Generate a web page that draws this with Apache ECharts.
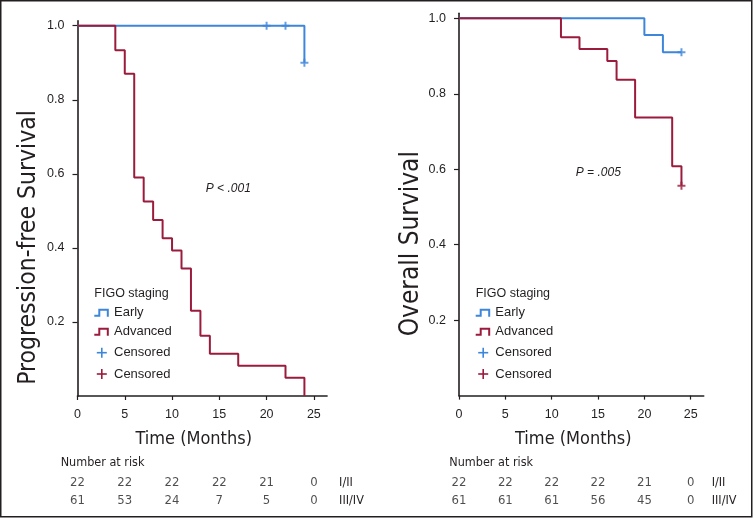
<!DOCTYPE html>
<html>
<head>
<meta charset="utf-8">
<style>
html,body{margin:0;padding:0;background:#fff;}
#chart{width:754px;height:518px;}
</style>
<script src="https://cdn.jsdelivr.net/npm/echarts@6.0.0/dist/echarts.min.js"></script>
</head>
<body>
<div id="chart"></div>
<script>
// ---- data (time in months, survival probability) ----
const pfsEarly = [[0, 1], [24, 0.90]];
const pfsAdvanced = [[0, 1], [4, 0.934], [5, 0.870], [6, 0.590], [7, 0.525], [8, 0.475], [9, 0.426],
  [10, 0.393], [11, 0.344], [12, 0.230], [13, 0.163], [14, 0.114], [17, 0.082], [22, 0.049], [24, 0]];
const pfsEarlyCensor = [[20, 1], [22, 1], [24, 0.90]];
const pfsAdvancedCensor = [];

const osEarly = [[0, 1], [20, 0.956], [22, 0.910], [24, 0.910]];
const osAdvanced = [[0, 1], [11, 0.950], [13, 0.919], [16, 0.887], [17, 0.837], [19, 0.737], [23, 0.608], [24, 0.556]];
const osEarlyCensor = [[24, 0.910]];
const osAdvancedCensor = [[24, 0.556]];

const xTicks = [0, 5, 10, 15, 20, 25];
const yTicks = [0.2, 0.4, 0.6, 0.8, 1.0];
const riskTimes = [0, 5, 10, 15, 20, 25];
const riskGroups = ['I/II', 'III/IV'];
const pfsRiskEarly = [22, 22, 22, 22, 21, 0];
const pfsRiskAdvanced = [61, 53, 24, 7, 5, 0];
const osRiskEarly = [22, 22, 22, 22, 21, 0];
const osRiskAdvanced = [61, 61, 61, 56, 45, 0];

// ---- styles ----
const BLUE = '#3d86da';
const RED = '#9a1b3c';
const INK = '#231f20';
const FONT = "'Liberation Sans', Arial, Helvetica, sans-serif";
const NARROW = "'DejaVu Sans Condensed', sans-serif";
const PLUS = 'path://M5,0L5,10M0,5L10,5';

const chart = echarts.init(document.getElementById('chart'), null, {renderer: 'canvas'});

function xAxisCfg(gi) {
  return {
    type: 'value', gridIndex: gi, min: 0, max: 26.4,
    axisLine: {show: true, lineStyle: {color: INK, width: 1.6}},
    axisTick: {show: true, length: 4, lineStyle: {color: INK, width: 1.2}, customValues: xTicks},
    axisLabel: {show: true, customValues: xTicks, margin: 12, color: INK, fontSize: 12.5, fontFamily: FONT},
    splitLine: {show: false}
  };
}
function yAxisCfg(gi, max) {
  return {
    type: 'value', gridIndex: gi, min: 0, max: max,
    axisLine: {show: true, lineStyle: {color: INK, width: 1.6}},
    axisTick: {show: true, length: 5, lineStyle: {color: INK, width: 1.2}, customValues: yTicks},
    axisLabel: {show: true, customValues: yTicks, margin: 13, color: INK, fontSize: 12.5, fontFamily: FONT,
      formatter: v => v.toFixed(1)},
    splitLine: {show: false}
  };
}
function riskX(gi) {
  return {type: 'value', gridIndex: gi, min: 0, max: 26.4, show: false};
}
function riskY(gi, margin) {
  return {
    type: 'category', gridIndex: gi, data: riskGroups, inverse: true, position: 'right',
    axisLine: {show: false}, axisTick: {show: false}, splitLine: {show: false},
    axisLabel: {show: true, margin: margin, color: INK, fontSize: 12.5, fontFamily: NARROW, align: 'left'}
  };
}
function stepLine(name, data, color, ai) {
  return {
    type: 'line', name: name, data: data, step: 'end', xAxisIndex: ai, yAxisIndex: ai,
    showSymbol: false, symbol: 'none', lineStyle: {color: color, width: 2}, itemStyle: {color: color},
    silent: true, animation: false
  };
}
function censor(name, data, color, ai) {
  return {
    type: 'scatter', name: name, data: data, xAxisIndex: ai, yAxisIndex: ai,
    symbol: PLUS, symbolSize: 8, z: 5,
    itemStyle: {color: 'none', borderColor: color, borderWidth: 2}, silent: true, animation: false
  };
}
function riskRow(counts, row, ai) {
  return {
    type: 'scatter', data: riskTimes.map((t, i) => [t, row, counts[i]]), xAxisIndex: ai, yAxisIndex: ai,
    symbolSize: 0.1, itemStyle: {color: 'rgba(0,0,0,0)'}, silent: true, animation: false,
    label: {show: true, position: 'inside', formatter: p => String(p.value[2]), color: INK,
      fontSize: 13, fontFamily: NARROW}
  };
}
function legend(x0, tx) {
  const rows = [312.7, 331.7, 352.7, 374];
  const names = ['Early', 'Advanced', 'Censored', 'Censored'];
  const els = [{
    type: 'text', x: x0, y: 293.3,
    style: {text: 'FIGO staging', fill: INK, font: '12.5px ' + FONT, verticalAlign: 'middle', align: 'left'}
  }];
  rows.forEach((c, i) => {
    const col = (i % 2 === 0) ? BLUE : RED;
    if (i < 2) {
      els.push({type: 'polyline', shape: {points: [[x0, c + 3], [x0 + 5, c + 3], [x0 + 5, c - 3], [x0 + 13.5, c - 3], [x0 + 13.5, c + 4]]},
        style: {stroke: col, lineWidth: 2, fill: null}});
    } else {
      els.push({type: 'line', shape: {x1: x0 + 2.5, y1: c, x2: x0 + 12.5, y2: c}, style: {stroke: col, lineWidth: 1.6}});
      els.push({type: 'line', shape: {x1: x0 + 7.5, y1: c - 5, x2: x0 + 7.5, y2: c + 5}, style: {stroke: col, lineWidth: 1.6}});
    }
    els.push({type: 'text', x: tx, y: c,
      style: {text: names[i], fill: INK, font: '13px ' + FONT, verticalAlign: 'middle', align: 'left'}});
  });
  return els;
}

const option = {
  backgroundColor: '#fff',
  animation: false,
  grid: [
    {left: 77.5, top: 20.7, width: 249.6, height: 375.3, containLabel: false},
    {left: 459, top: 13.3, width: 244.7, height: 382.3, containLabel: false},
    {left: 77.5, top: 473, width: 249.6, height: 37.4, containLabel: false},
    {left: 459, top: 473, width: 244.7, height: 37.4, containLabel: false}
  ],
  xAxis: [xAxisCfg(0), xAxisCfg(1), riskX(2), riskX(3)],
  yAxis: [yAxisCfg(0, 1.0135), yAxisCfg(1, 1.0133), riskY(2, 12), riskY(3, 8)],
  series: [
    stepLine('Early', pfsEarly, BLUE, 0),
    stepLine('Advanced', pfsAdvanced, RED, 0),
    censor('Censored', pfsEarlyCensor, BLUE, 0),
    censor('Censored ', pfsAdvancedCensor, RED, 0),
    stepLine('Early', osEarly, BLUE, 1),
    stepLine('Advanced', osAdvanced, RED, 1),
    censor('Censored', osEarlyCensor, BLUE, 1),
    censor('Censored ', osAdvancedCensor, RED, 1),
    riskRow(pfsRiskEarly, 0, 2),
    riskRow(pfsRiskAdvanced, 1, 2),
    riskRow(osRiskEarly, 0, 3),
    riskRow(osRiskAdvanced, 1, 3)
  ],
  graphic: [
    {type: 'rect', shape: {x: 0.75, y: 0.75, width: 751, height: 516}, style: {fill: null, stroke: INK, lineWidth: 1.5}, silent: true},
    {type: 'text', x: 29, y: 247.5, rotation: Math.PI / 2,
      style: {text: 'Progression-free Survival', fill: INK, font: '24.5px ' + NARROW, align: 'center', verticalAlign: 'middle'}},
    {type: 'text', x: 411, y: 243.7, rotation: Math.PI / 2,
      style: {text: 'Overall Survival', fill: INK, font: '26px ' + NARROW, align: 'center', verticalAlign: 'middle'}},
    {type: 'text', x: 193.7, y: 439.3,
      style: {text: 'Time (Months)', fill: INK, font: '18px ' + NARROW, align: 'center', verticalAlign: 'middle'}},
    {type: 'text', x: 573.3, y: 439.3,
      style: {text: 'Time (Months)', fill: INK, font: '18px ' + NARROW, align: 'center', verticalAlign: 'middle'}},
    {type: 'text', x: 60.7, y: 462.7,
      style: {text: 'Number at risk', fill: INK, font: '12.5px ' + NARROW, align: 'left', verticalAlign: 'middle'}},
    {type: 'text', x: 449.3, y: 462.7,
      style: {text: 'Number at risk', fill: INK, font: '12.5px ' + NARROW, align: 'left', verticalAlign: 'middle'}},
    {type: 'text', x: 228.3, y: 188.7,
      style: {text: 'P < .001', fill: INK, font: 'italic 12px ' + FONT, align: 'center', verticalAlign: 'middle'}},
    {type: 'text', x: 598.3, y: 172.3,
      style: {text: 'P = .005', fill: INK, font: 'italic 12px ' + FONT, align: 'center', verticalAlign: 'middle'}}
  ].concat(legend(94.3, 114), legend(475.7, 495.3))
};
chart.setOption(option);
</script>
</body>
</html>
